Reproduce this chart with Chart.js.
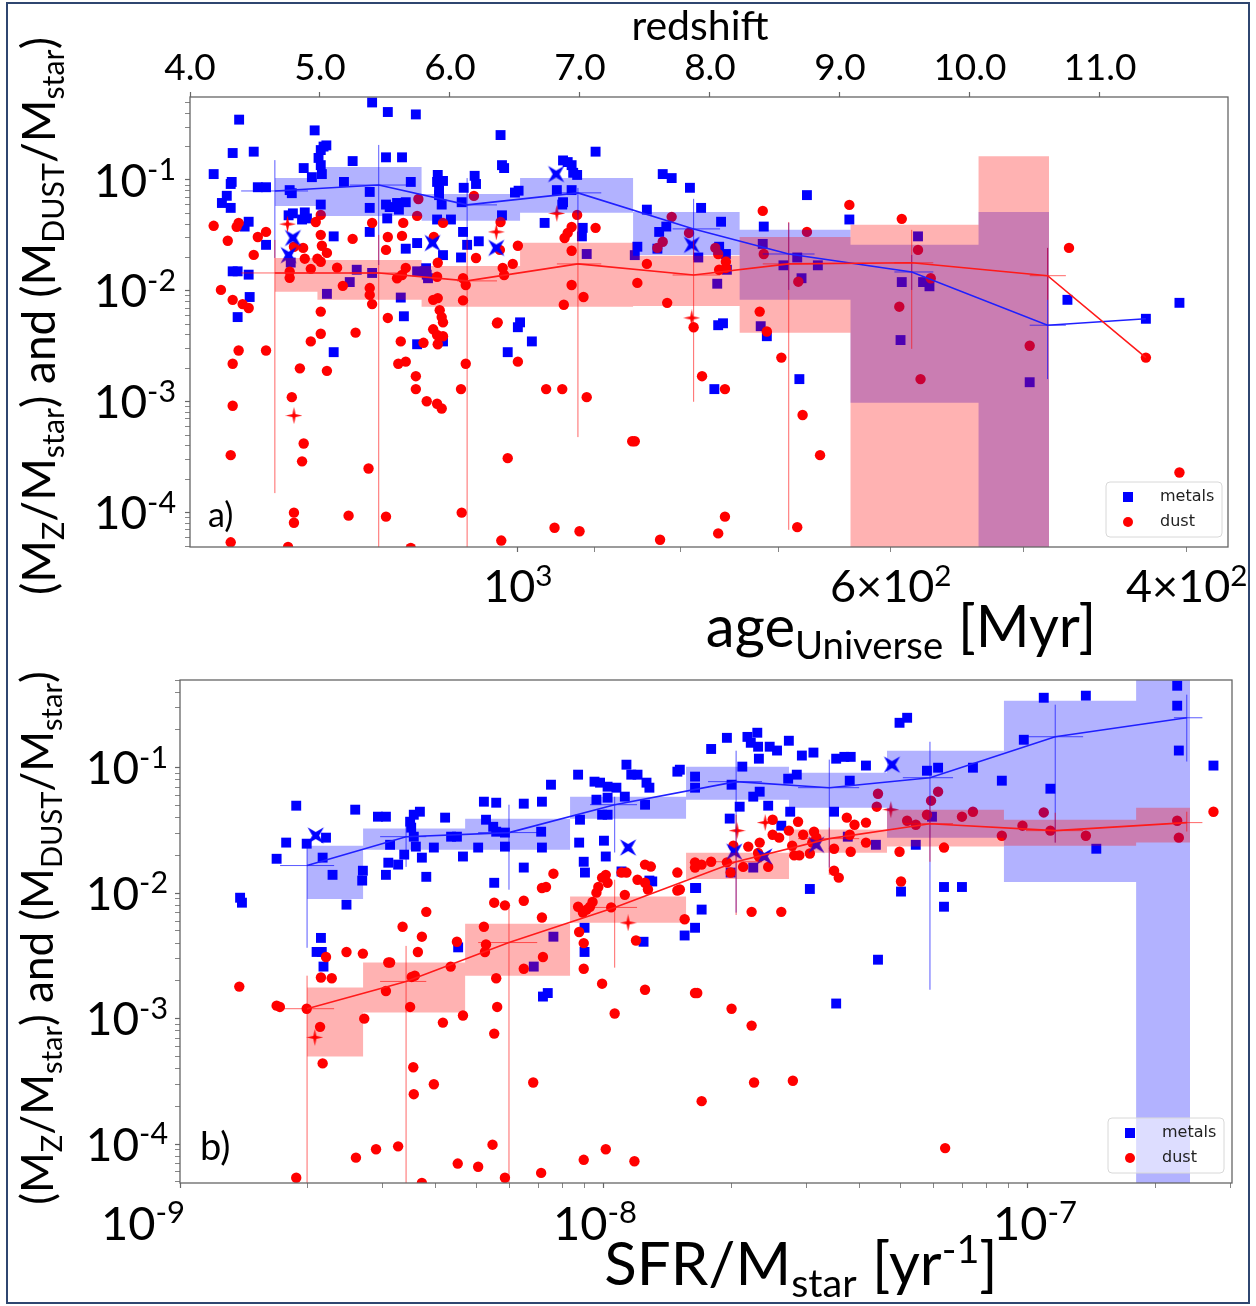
<!DOCTYPE html>
<html>
<head>
<meta charset="utf-8">
<script src="https://cdn.jsdelivr.net/npm/chart.js@4.4.0/dist/chart.umd.min.js"></script>
<style>
body { margin: 0; background: #fff; }
#fig { position: relative; width: 1256px; height: 1306px; }
#fig canvas { position: absolute; left: 0; }
#marco { position: absolute; left: 6px; top: 2px; width: 1240px; height: 1298px; border: 2px solid #2f4670; pointer-events: none; }
</style>
</head>
<body>
<div id="fig">
  <canvas id="grafica-a" width="1256" height="665" style="top:0"></canvas>
  <canvas id="grafica-b" width="1256" height="641" style="top:665px"></canvas>
  <div id="marco"></div>
</div>
<script>
// ---------- panel a : age of the Universe [Myr] ----------
const metalsA = [[1465,0.35],[1221,0.50],[1195,0.41],[1150,0.39],[1321,0.28],[1478,0.175],[1436,0.18],[1305,0.20],[1300,0.205],[1310,0.186],[1314,0.158],[1310,0.136],[1308,0.113],[1341,0.128],[1254,0.148],[1198,0.16],[1172,0.16],[1024,0.254],[1022,0.136],[1019,0.128],[1517,0.113],[1480,0.096],[1482,0.092],[1428,0.086],[1412,0.086],[1367,0.081],[1363,0.076],[1326,0.106],[1269,0.096],[1225,0.078],[1225,0.056],[1158,0.096],[1116,0.111],[1117,0.096],[1108,0.098],[1114,0.081],[1114,0.073],[1110,0.060],[1077,0.085],[1080,0.063],[1061,0.109],[1059,0.092],[1004,0.077],[999,0.080],[1490,0.072],[1500,0.062],[1482,0.056],[1446,0.042],[1454,0.038],[1412,0.026],[1310,0.060],[1369,0.048],[1361,0.050],[1339,0.051],[1335,0.045],[1344,0.044],[1198,0.060],[1192,0.057],[1180,0.062],[1177,0.054],[1166,0.063],[1196,0.045],[1225,0.034],[1287,0.031],[1166,0.024],[1148,0.027],[1117,0.044],[1096,0.044],[1078,0.034],[1072,0.026],[1055,0.028],[1022,0.048],[1108,0.021],[1081,0.020],[1134,0.016],[1133,0.014],[1478,0.015],[1468,0.015],[1446,0.014],[1444,0.0088],[1468,0.0058],[1169,0.0059],[1299,0.0094],[1247,0.0155],[1259,0.012],[1221,0.0145],[1174,0.0087],[1148,0.015],[1136,0.015],[1131,0.013],[1365,0.018],[997,0.0052],[899,0.18],[940,0.15],[934,0.145],[929,0.136],[927,0.116],[922,0.111],[948,0.081],[929,0.081],[940,0.063],[941,0.060],[964,0.041],[915,0.037],[916,0.031],[910,0.0215],[820,0.113],[810,0.104],[790,0.085],[778,0.056],[838,0.054],[757,0.042],[824,0.034],[816,0.038],[849,0.025],[852,0.021],[826,0.024],[781,0.020],[759,0.025],[752,0.0215],[751,0.0155],[761,0.0116],[673,0.073],[714,0.038],[715,0.0265],[695,0.017],[682,0.020],[663,0.017],[678,0.013],[635,0.044],[1000,0.0047],[981,0.0035],[760,0.0049],[755,0.0051],[717,0.0048],[711,0.0039],[764,0.0013],[680,0.0016],[578,0.031],[591,0.012],[574,0.012],[569,0.011],[592,0.0036],[496,0.0015],[471,0.0083],[423,0.0056],[404,0.0078],[1287,0.0028],[1148,0.0033],[1108,0.0035],[1014,0.0028]];
const dustA = [[1517,0.0386],[1488,0.0283],[1470,0.0378],[1466,0.041],[1428,0.0306],[1412,0.034],[1436,0.0211],[1359,0.025],[1342,0.0244],[1339,0.0195],[1328,0.0158],[1367,0.0149],[1367,0.0131],[1319,0.0418],[1310,0.0484],[1310,0.032],[1308,0.0255],[1299,0.022],[1316,0.0195],[1310,0.0183],[1281,0.0162],[1271,0.0111],[1254,0.0294],[1221,0.041],[1225,0.0106],[1225,0.0092],[1221,0.0076],[1195,0.0306],[1198,0.0234],[1170,0.041],[1172,0.0313],[1180,0.013],[1172,0.0139],[1166,0.0161],[1146,0.0674],[1148,0.0474],[1122,0.0306],[1108,0.041],[1116,0.0179],[1117,0.0134],[1123,0.0083],[1116,0.0086],[1113,0.0067],[1110,0.0058],[1108,0.0052],[1078,0.013],[1074,0.0113],[1078,0.0082],[1062,0.0718],[1059,0.0198],[1024,0.0418],[1025,0.0234],[1021,0.0161],[1019,0.0139],[1007,0.0175],[1000,0.0255],[1502,0.0102],[1478,0.0083],[1458,0.0076],[1446,0.0070],[1310,0.0065],[1195,0.0057],[1028,0.0052],[922,0.0484],[929,0.0377],[934,0.0333],[938,0.030],[899,0.037],[929,0.023],[929,0.0113],[939,0.0075],[914,0.0088],[838,0.0175],[849,0.0118],[815,0.0078],[810,0.0465],[820,0.0277],[826,0.0244],[791,0.0333],[763,0.0244],[760,0.0215],[752,0.0183],[759,0.0155],[752,0.0161],[786,0.0047],[715,0.0526],[714,0.0215],[673,0.034],[681,0.0121],[718,0.0065],[711,0.0043],[635,0.0596],[591,0.0446],[578,0.0234],[568,0.013],[593,0.0072],[470,0.0244],[697,0.0025],[777,0.0017],[753,0.0013],[852,0.00044],[677,0.00076],[661,0.00033],[753,0.000092],[760,0.000065],[823,0.000057],[682,0.000074],[576,0.0016],[496,0.0032],[423,0.0025],[404,0.00023],[1466,0.0029],[1478,0.0022],[1412,0.0029],[1328,0.0035],[1310,0.0041],[1348,0.002],[1299,0.0019],[1249,0.0042],[1123,0.0045],[1117,0.004],[1108,0.0039],[1116,0.0033],[1138,0.0034],[1174,0.0035],[1178,0.0022],[1166,0.0023],[1150,0.0017],[1150,0.0013],[1133,0.00101],[1117,0.00096],[1110,0.00087],[1074,0.0022],[1081,0.0013],[1029,0.0051],[1000,0.0023],[962,0.0013],[941,0.0013],[910,0.0011],[855,0.00044],[1363,0.0011],[1478,0.00092],[1341,0.00042],[1344,0.00029],[1482,0.00033],[1227,0.00025],[1014,0.00031],[1359,0.0001],[1359,0.000081],[1261,0.000094],[1198,0.000092],[1080,0.0001],[1482,0.000054],[1370,0.000049],[951,0.000073],[919,0.000068],[1023,0.000056],[1158,0.000048]];
const starsMetalsA = [[1361,0.030],[1369,0.021],[1124,0.027],[1030,0.0244],[949,0.113],[788,0.026]];
const starsDustA = [[1371,0.040],[1030,0.034],[948,0.050],[788,0.0057],[1359,0.00075]];

// bins (16-84 percentile boxes), edges in Myr
const binEdgesA = [1395,1316,1141,997,854,738,634,532,483];
const metalsHiA = [0.104,0.131,0.0748,0.104,0.0515,0.0355,0.026,0.0515];
const metalsLoA = [0.0583,0.0474,0.0428,0.0505,0.0211,0.0083,0.00098,1e-6];
const dustHiA = [0.0198,0.019,0.0168,0.0271,0.0207,0.0306,0.0394,0.164];
const dustLoA = [0.0098,0.0083,0.0072,0.0072,0.0073,0.0042,1e-6,1e-6];

// medians with error bars
const medAgeA = [1395,1210,1072,921,786,690,583,484,423];
const medMetalsA = [0.0796,0.090,0.0596,0.0765,0.0362,0.0215,0.0148,0.0049,0.0056];
const medDustA = [0.0145,0.0145,0.0123,0.0175,0.0139,0.0175,0.0179,0.0137,0.0025];
const ageLoA = [1461,1259,1087,948,809,715,597,496];
const ageHiA = [1333,1164,1029,892,758,666,566,472];
const metalsErrHiA = [0.151,0.207,0.104,0.0847,0.0676,0.041,0.0211,0.0244];
const metalsErrLoA = [0.0198,0.0171,0.0234,0.0288,0.019,0.0102,0.0102,0.0016];
const dustErrHiA = [0.0288,0.032,0.0288,0.0484,0.0288,0.0418,0.0355,0.0244];
const dustErrLoA = [0.00015,1e-6,1e-6,0.00048,0.001,0.00007,0.003,0.0083];

// ---------- panel b : SFR/Mstar [1/yr] ----------
const metalsB = [[1.386e-9,0.0092],[1.40e-9,0.0084],[1.69e-9,0.0188],[1.88e-9,0.0498],[1.78e-9,0.0253],[1.99e-9,0.0248],[2.21e-9,0.0277],[2.17e-9,0.0192],[2.29e-9,0.014],[2.47e-9,0.0081],[2.59e-9,0.0463],[2.70e-9,0.0151],[2.69e-9,0.0126],[2.93e-9,0.0407],[3.06e-9,0.0407],[3.13e-9,0.0243],[3.10e-9,0.0175],[3.27e-9,0.0169],[3.06e-9,0.0140],[3.38e-9,0.0203],[3.49e-9,0.0371],[3.56e-9,0.0422],[3.68e-9,0.0446],[3.51e-9,0.0333],[3.56e-9,0.0282],[3.60e-9,0.0235],[3.72e-9,0.0192],[3.81e-9,0.0135],[3.97e-9,0.0231],[4.22e-9,0.0400],[4.36e-9,0.0282],[4.50e-9,0.0282],[4.65e-9,0.0196],[5.05e-9,0.0231],[5.21e-9,0.0536],[5.57e-9,0.0526],[5.27e-9,0.0385],[5.48e-9,0.0338],[5.57e-9,0.0309],[5.84e-9,0.0304],[5.84e-9,0.0235],[6.47e-9,0.0517],[6.47e-9,0.016],[5.51e-9,0.0121],[7.14e-9,0.0536],[7.11e-9,0.0309],[7.14e-9,0.0231],[7.50e-9,0.0732],[8.69e-9,0.088],[8.78e-9,0.0385],[8.74e-9,0.0253],[8.96e-9,0.0178],[9.02e-9,0.0146],[9.5e-9,0.0774],[9.79e-9,0.0760],[1.02e-8,0.0706],[1.07e-8,0.0693],[1.13e-8,0.1057],[1.16e-8,0.088],[1.20e-8,0.088],[1.26e-8,0.076],[1.28e-8,0.0693],[9.6e-9,0.0556],[1.02e-8,0.0577],[1.12e-8,0.0588],[1.25e-8,0.0507],[9.9e-9,0.0422],[1.02e-8,0.0422],[1.00e-8,0.0262],[1.01e-8,0.0196],[1.49e-8,0.093],[1.64e-8,0.0849],[1.64e-8,0.0693],[1.10e-8,0.0149],[1.28e-8,0.0126],[1.30e-8,0.0124],[1.55e-8,0.0046],[1.64e-8,0.011],[1.64e-8,0.0053],[2.15e-9,0.0044],[2.10e-9,0.0034],[2.16e-9,0.0034],[2.18e-9,0.0026],[9.0e-9,0.0053],[9.0e-9,0.0034],[1.24e-8,0.0041],[4.53e-9,0.0037],[7.18e-9,0.0015],[7.37e-9,0.0016],[7.6e-9,0.0045],[6.83e-9,0.0026],[1.51e-8,0.0964],[1.79e-8,0.141],[1.95e-8,0.173],[2.18e-8,0.176],[2.30e-8,0.190],[2.22e-8,0.158],[2.31e-8,0.147],[2.32e-8,0.118],[2.46e-8,0.147],[2.56e-8,0.137],[2.73e-8,0.164],[2.93e-8,0.125],[3.12e-8,0.132],[3.53e-8,0.118],[3.69e-8,0.122],[3.82e-8,0.122],[4.15e-8,0.104],[4.98e-8,0.228],[5.19e-8,0.250],[2.12e-8,0.102],[2.00e-8,0.0732],[2.33e-8,0.0644],[2.25e-8,0.0588],[2.72e-8,0.0817],[2.85e-8,0.088],[3.80e-8,0.0788],[2.09e-8,0.0489],[2.44e-8,0.0498],[1.98e-8,0.0393],[2.75e-8,0.0446],[2.62e-8,0.0345],[3.49e-8,0.0446],[4.38e-8,0.0243],[5.44e-8,0.0243],[5.78e-8,0.0946],[6.14e-8,0.100],[7.42e-8,0.100],[8.68e-8,0.0788],[9.78e-8,0.167],[1.09e-7,0.361],[1.37e-7,0.375],[1.13e-7,0.068],[2.25e-7,0.45],[2.25e-7,0.312],[2.27e-7,0.137],[2.74e-7,0.104],[1.45e-7,0.0226],[1.65e-8,0.011],[1.70e-8,0.0074],[3.06e-8,0.0108],[5.02e-8,0.0103],[6.34e-8,0.0112],[6.99e-8,0.0112],[6.34e-8,0.0078],[5.94e-8,0.0407],[3.76e-8,0.0282],[2.25e-8,0.016],[1.99e-8,0.0146],[3.53e-8,0.00132],[4.43e-8,0.00295]];
const dustB = [[1.99e-9,0.0012],[2.14e-9,0.00086],[2.17e-9,0.00044],[1.72e-9,0.00124],[2.21e-9,0.0031],[2.28e-9,0.0021],[2.15e-9,0.00213],[2.47e-9,0.0034],[2.70e-9,0.0033],[2.72e-9,0.001],[3.06e-9,0.00166],[3.10e-9,0.0028],[3.13e-9,0.0028],[3.35e-9,0.0054],[3.52e-9,0.00215],[3.58e-9,0.0022],[3.49e-9,0.00124],[3.64e-9,0.0034],[3.72e-9,0.0045],[3.81e-9,0.0071],[3.55e-9,0.00041],[4.17e-9,0.00093],[4.65e-9,0.00106],[4.35e-9,0.0026],[4.50e-9,0.0041],[5.21e-9,0.0054],[5.27e-9,0.0039],[5.24e-9,0.0034],[5.57e-9,0.0021],[5.60e-9,0.00124],[5.51e-9,0.00076],[5.51e-9,0.0084],[5.84e-9,0.0080],[6.47e-9,0.0087],[7.14e-9,0.011],[7.30e-9,0.0112],[7.6e-9,0.0143],[7.14e-9,0.0064],[7.18e-9,0.0031],[6.47e-9,0.0025],[8.69e-9,0.0078],[8.92e-9,0.0070],[9.1e-9,0.0074],[9.27e-9,0.0078],[9.4e-9,0.0085],[9.6e-9,0.0101],[9.7e-9,0.0112],[9.9e-9,0.0133],[1.01e-8,0.014],[1.02e-8,0.0121],[8.74e-9,0.0049],[8.96e-9,0.0040],[8.96e-9,0.0025],[9.9e-9,0.0019],[1.04e-8,0.0077],[1.06e-8,0.0011],[1.12e-8,0.0097],[1.19e-8,0.0042],[1.10e-8,0.0146],[1.13e-8,0.0146],[1.20e-8,0.0128],[1.25e-8,0.0121],[1.27e-8,0.0107],[1.25e-8,0.0169],[1.29e-8,0.0163],[1.25e-8,0.0017],[1.49e-8,0.0146],[1.49e-8,0.0105],[1.55e-8,0.0062],[1.64e-8,0.0016],[1.64e-8,0.0176],[1.64e-8,0.016],[1.51e-8,0.0107],[1.70e-8,0.0169],[1.79e-8,0.0178],[1.95e-8,0.0176],[1.99e-8,0.0146],[2.02e-8,0.0239],[2.19e-8,0.0235],[2.31e-8,0.0209],[2.33e-8,0.0253],[2.32e-8,0.0196],[2.13e-8,0.0162],[2.44e-8,0.0162],[2.50e-8,0.0385],[2.50e-8,0.0292],[2.59e-8,0.0277],[2.73e-8,0.0315],[2.87e-8,0.0371],[2.95e-8,0.0292],[3.13e-8,0.0309],[3.17e-8,0.0277],[3.10e-8,0.0253],[2.78e-8,0.0239],[2.81e-8,0.02],[2.89e-8,0.02],[3.06e-8,0.0207],[3.49e-8,0.0226],[3.49e-8,0.0151],[3.58e-8,0.0133],[3.74e-8,0.0400],[3.90e-8,0.0351],[3.80e-8,0.0292],[3.82e-8,0.0214],[4.15e-8,0.0365],[4.15e-8,0.0253],[4.98e-8,0.0214],[4.43e-8,0.062],[4.40e-8,0.0489],[5.19e-8,0.0378],[5.44e-8,0.0351],[5.91e-8,0.0546],[6.14e-8,0.0644],[5.78e-8,0.0422],[6.34e-8,0.0231],[5.02e-8,0.0124],[2.23e-8,0.0071],[2.62e-8,0.0071],[6.99e-8,0.0407],[7.42e-8,0.0446],[8.68e-8,0.0287],[9.71e-8,0.0345],[1.09e-7,0.044],[1.13e-7,0.0315],[1.37e-7,0.0287],[2.25e-7,0.0378],[2.27e-7,0.0277],[2.74e-7,0.0446],[1.66e-8,0.0016],[2.00e-8,0.0012],[2.23e-8,0.00088],[2.26e-8,0.00031],[2.79e-8,0.00032],[1.70e-8,0.00022],[1.18e-8,0.000073],[6.38e-8,0.000093],[1.38e-9,0.0018],[1.69e-9,0.00127],[1.88e-9,0.000054],[2.60e-9,0.000078],[2.90e-9,0.000091],[3.27e-9,0.000096],[3.97e-9,0.0003],[3.56e-9,0.00025],[4.52e-9,0.000070],[5.05e-9,0.000066],[5.46e-9,0.000099],[5.84e-9,0.000054],[6.81e-9,0.00031],[7.11e-9,0.000059],[8.96e-9,0.000075],[1.01e-8,0.000091],[3.72e-9,0.000049]];
const starsMetalsB = [[2.09e-9,0.0288],[1.14e-8,0.0231],[4.78e-8,0.1057],[3.17e-8,0.0243],[2.39e-8,0.0196],[2.03e-8,0.0214]];
const starsDustB = [[2.08e-9,0.00071],[1.14e-8,0.0058],[2.06e-8,0.0315],[2.40e-8,0.0365],[4.75e-8,0.0463]];

const binEdgesB = [1.994e-9,2.703e-9,4.705e-9,8.319e-9,1.562e-8,2.732e-8,4.652e-8,8.78e-8,1.80e-7,2.412e-7];
const metalsHiB = [0.0239,0.0327,0.0392,0.0587,0.1018,0.0912,0.1366,0.342,1.0];
const metalsLoB = [0.0090,0.0222,0.0222,0.0392,0.0556,0.0480,0.0277,0.0123,1e-6];
const dustHiB = [0.00177,0.0028,0.0057,0.0094,0.021,0.0321,0.0463,0.0385,0.048];
const dustLoB = [0.00050,0.00112,0.0022,0.0058,0.013,0.021,0.0235,0.0239,0.0253];

const medSsfrB = [1.994e-9,3.414e-9,5.97e-9,1.06e-8,2.05e-8,3.40e-8,5.875e-8,1.16e-7,2.37e-7];
const medMetalsB = [0.0166,0.0282,0.0304,0.0507,0.0774,0.0693,0.0832,0.1765,0.25];
const medDustB = [0.0012,0.00198,0.00404,0.0077,0.0178,0.0272,0.0358,0.0315,0.0365];
const ssfrLoB = [1.722e-9,2.965e-9,5.05e-9,9.27e-9,1.76e-8,2.87e-8,5.07e-8,9.9e-8,2.21e-7];
const ssfrHiB = [2.31e-9,3.81e-9,6.96e-9,1.197e-8,2.36e-8,4.00e-8,6.66e-8,1.35e-7,2.58e-7];
const metalsErrHiB = [0.0239,0.0339,0.0507,0.0587,0.1366,0.116,0.161,0.318,0.382];
const metalsErrLoB = [0.00367,0.0162,0.01066,0.0211,0.0070,0.016,0.0017,0.0253,0.112];
const dustErrHiB = [0.0022,0.0038,0.0078,0.0128,0.0422,0.0333,0.0507,0.0438,0.0446];
const dustErrLoB = [1e-6,1e-6,1e-6,0.00255,0.0067,0.014,0.0178,0.0253,0.031];

// ---------- ticks ----------
const ratioTicks = [1e-1,1e-2,1e-3,1e-4];
const ratioTickText = [['10','-1'],['10','-2'],['10','-3'],['10','-4']];
const ageTicks = [1000,600,400];
const ageTickText = [['10','3'],['6×10','2'],['4×10','2']];
const redshiftTicks = [4,5,6,7,8,9,10,11];
const ssfrTicks = [1e-9,1e-8,1e-7];
const ssfrTickText = [['10','-9'],['10','-8'],['10','-7']];
const ssfrTickShift = [-37,-9,7];

const FONT = 'Lato, "Liberation Sans", sans-serif';
const AZUL = '#0000ff';
const ROJO = '#ff0000';

function pts(list) {
    return list.map(p => ({x: p[0], y: p[1]}));
}

// one point per bin edge, the last edge repeats the last bin value
function escalones(edges, vals) {
    return edges.map((e, i) => ({x: e, y: vals[Math.min(i, vals.length - 1)]}));
}

function barras(xs, ys, yLo, yHi, xLo, xHi) {
    const out = [];
    for (let i = 0; i < yLo.length; i++) {
        out.push({x: xs[i], y: yLo[i]}, {x: xs[i], y: yHi[i]}, {x: xs[i], y: null});
        out.push({x: xLo[i], y: ys[i]}, {x: xHi[i], y: ys[i]}, {x: xHi[i], y: null});
    }
    return out;
}

function estrella(color, size, rot, inner) {
    const c = document.createElement('canvas');
    c.width = size; c.height = size;
    const g = c.getContext('2d');
    g.translate(size / 2, size / 2);
    g.rotate(rot);
    const R = size / 2, r = R * inner;
    g.beginPath();
    for (let i = 0; i < 8; i++) {
        const a = i * Math.PI / 4, rr = (i % 2) ? r : R;
        g.lineTo(rr * Math.cos(a), rr * Math.sin(a));
    }
    g.closePath();
    g.fillStyle = color;
    g.fill();
    return c;
}

function logTicks(min, max) {
    const t = [];
    for (let e = -10; e <= 4; e++) {
        for (let k = 1; k < 10; k++) {
            const v = k * Math.pow(10, e);
            if (v >= min * 0.999 && v <= max * 1.001) t.push({value: v, major: k === 1});
        }
    }
    return t;
}

// text with sub (-1) and superscripts (1)
function rich(ctx, runs, x, y, size, align, rot) {
    const fs = k => (k === 0 ? size : size * 0.66);
    const ws = runs.map(r => { ctx.font = fs(r[1]) + 'px ' + FONT; return ctx.measureText(r[0]).width; });
    const total = ws.reduce((a, b) => a + b, 0);
    ctx.save();
    ctx.translate(x, y);
    if (rot) ctx.rotate(rot);
    ctx.fillStyle = '#000';
    ctx.textAlign = 'left';
    ctx.textBaseline = 'alphabetic';
    let cx = align === 'center' ? -total / 2 : (align === 'right' ? -total : 0);
    runs.forEach((r, i) => {
        ctx.font = fs(r[1]) + 'px ' + FONT;
        const dy = r[1] < 0 ? size * 0.2 : (r[1] > 0 ? -size * 0.36 : 0);
        ctx.fillText(r[0], cx, dy);
        cx += ws[i];
    });
    ctx.restore();
}

function decor(d) {
    return {
        id: 'decor',
        afterDatasetsDraw(chart) {
            const ctx = chart.ctx, a = chart.chartArea;
            // legend
            const w = 116, h = 55, lx = a.right - d.legRight - w, ly = a.bottom - 10 - h;
            ctx.save();
            ctx.fillStyle = 'rgba(255,255,255,0.55)';
            ctx.strokeStyle = '#d8d8d8';
            ctx.lineWidth = 1;
            ctx.beginPath();
            ctx.roundRect(lx, ly, w, h, 4);
            ctx.fill();
            ctx.stroke();
            ctx.fillStyle = AZUL;
            ctx.fillRect(lx + 17, ly + 10, 10, 10);
            ctx.fillStyle = ROJO;
            ctx.beginPath();
            ctx.arc(lx + 22, ly + 40, 5, 0, Math.PI * 2);
            ctx.fill();
            ctx.fillStyle = '#222';
            ctx.font = '16px "DejaVu Sans"';
            ctx.textBaseline = 'middle';
            ctx.fillText('metals', lx + 54, ly + 15);
            ctx.fillText('dust', lx + 54, ly + 40);
            // axes frame
            ctx.strokeStyle = '#666';
            ctx.lineWidth = 1.3;
            ctx.strokeRect(a.left, a.top, a.right - a.left, a.bottom - a.top);
            ctx.restore();
        },
        afterDraw(chart) {
            const ctx = chart.ctx, sx = chart.scales.x, sy = chart.scales.y;
            ratioTicks.forEach((v, i) => {
                rich(ctx, [[ratioTickText[i][0], 0], [ratioTickText[i][1], 1]],
                    d.yRight, sy.getPixelForValue(v) + 0.36 * d.ySize, d.ySize, 'right');
            });
            d.xTicks.forEach((v, i) => {
                rich(ctx, [[d.xText[i][0], 0], [d.xText[i][1], 1]],
                    sx.getPixelForValue(v) + (d.xShift ? d.xShift[i] : 0), d.xBase, d.xSize, 'center');
            });
            if (chart.scales.x2) {
                const s2 = chart.scales.x2;
                redshiftTicks.forEach(v => {
                    rich(ctx, [[v.toFixed(1), 0]], s2.getPixelForValue(v), 80, 37, 'center');
                });
                rich(ctx, [['redshift', 0]], 700, 40, 41, 'center');
            }
            rich(ctx, d.xTitle, d.xTitleX, d.xTitleBase, d.xTitleSize, 'center');
            rich(ctx, [['(M', 0], ['Z', -1], ['/M', 0], ['star', -1], [') and (M', 0], ['DUST', -1], ['/M', 0], ['star', -1], [')', 0]],
                d.yTitleX, d.yTitleY, d.yTitleSize, 'center', -Math.PI / 2);
            rich(ctx, [[d.panel, 0]], d.panelX, d.panelBase, d.panelSize, 'left');
        }
    };
}

function graficar(canvasId, p) {
    const bx = estrella(AZUL, 23, Math.PI / 4, 0.3);
    const rx = estrella(ROJO, 17, 0, 0.25);
    const scatter = (data, style, color, radius, order) => ({
        type: 'scatter', data: pts(data), pointStyle: style, pointRadius: radius,
        backgroundColor: color, borderWidth: 0, pointBorderWidth: 0, clip: 0, order: order
    });
    // Chart.js 'before' keeps each value until the next edge
    const step = (edges, vals, fill, color, order) => ({
        type: 'line', data: escalones(edges, vals), stepped: 'before', borderWidth: 0,
        pointRadius: 0, fill: fill, backgroundColor: color, order: order, clip: 0
    });
    const linea = (data, color, width, order) => ({
        type: 'line', data: data, borderColor: color, borderWidth: width, pointRadius: 0,
        fill: false, spanGaps: false, tension: 0, order: order, clip: 0
    });
    const datasets = [
        scatter(p.metals, 'rect', AZUL, 7, 12),
        scatter(p.dust, 'circle', ROJO, 5.2, 11),
        scatter(p.starsMetals, bx, AZUL, 8, 10),
        scatter(p.starsDust, rx, ROJO, 8, 9),
        step(p.edges, p.metalsHi, {target: 5}, 'rgba(0,0,255,0.3)', 8),
        step(p.edges, p.metalsLo, false, 'rgba(0,0,0,0)', 8),
        step(p.edges, p.dustHi, {target: 7}, 'rgba(255,0,0,0.3)', 7),
        step(p.edges, p.dustLo, false, 'rgba(0,0,0,0)', 7),
        linea(barras(p.medX, p.medMetals, p.metalsErrLo, p.metalsErrHi, p.xLo, p.xHi), 'rgba(0,0,255,0.65)', 1, 4),
        linea(barras(p.medX, p.medDust, p.dustErrLo, p.dustErrHi, p.xLo, p.xHi), 'rgba(255,0,0,0.6)', 1, 3),
        linea(p.medX.map((x, i) => ({x: x, y: p.medMetals[i]})), '#1f1fff', 1.6, 2),
        linea(p.medX.map((x, i) => ({x: x, y: p.medDust[i]})), '#ff1a1a', 1.6, 1)
    ];
    const axisGrid = {drawOnChartArea: false, drawTicks: true, tickLength: 5, color: '#666',
        tickWidth: c => (c.tick && c.tick.major ? 1.2 : 0.8)};
    const scales = {
        x: {
            type: 'logarithmic', position: 'bottom', min: p.xMin, max: p.xMax, reverse: p.reverse,
            afterBuildTicks: s => { s.ticks = logTicks(p.xMin, p.xMax); },
            afterFit: s => { s.height = p.xAxisH; },
            ticks: {display: false}, grid: axisGrid, border: {display: false}
        },
        y: {
            type: 'logarithmic', position: 'left', min: p.yMin, max: p.yMax,
            afterBuildTicks: s => { s.ticks = logTicks(p.yMin, p.yMax); },
            afterFit: s => { s.width = p.yAxisW; },
            ticks: {display: false}, grid: axisGrid, border: {display: false}
        }
    };
    if (p.top) {
        scales.x2 = {
            type: 'linear', position: 'top', min: 4, max: 11.985,
            afterBuildTicks: s => { s.ticks = redshiftTicks.map(v => ({value: v, major: true})); },
            afterFit: s => { s.height = p.top; },
            ticks: {display: false}, grid: axisGrid, border: {display: false}
        };
    }
    return new Chart(document.getElementById(canvasId), {
        type: 'scatter',
        data: {datasets: datasets},
        options: {
            responsive: false,
            animation: false,
            events: [],
            layout: {padding: {left: 0, right: p.padRight, top: p.padTop, bottom: 0}},
            plugins: {legend: {display: false}, tooltip: {enabled: false}},
            scales: scales
        },
        plugins: [decor(p.deco)]
    });
}

graficar('grafica-a', {
    metals: metalsA, dust: dustA, starsMetals: starsMetalsA, starsDust: starsDustA,
    edges: binEdgesA, metalsHi: metalsHiA, metalsLo: metalsLoA, dustHi: dustHiA, dustLo: dustLoA,
    medX: medAgeA, medMetals: medMetalsA, medDust: medDustA, xLo: ageLoA, xHi: ageHiA,
    metalsErrLo: metalsErrLoA, metalsErrHi: metalsErrHiA, dustErrLo: dustErrLoA, dustErrHi: dustErrHiA,
    xMin: 378, xMax: 1567, reverse: true, yMin: 4.9e-5, yMax: 0.56,
    xAxisH: 118, yAxisW: 190, top: 97, padRight: 28, padTop: 0,
    deco: {
        legRight: 6, yRight: 176, ySize: 46,
        xTicks: ageTicks, xText: ageTickText, xBase: 602, xSize: 45,
        xTitle: [['age', 0], ['Universe', -1], [' [Myr]', 0]], xTitleX: 901, xTitleBase: 647, xTitleSize: 58,
        yTitleX: 55, yTitleY: 316, yTitleSize: 46,
        panel: 'a)', panelX: 208, panelBase: 527, panelSize: 34
    }
});

graficar('grafica-b', {
    metals: metalsB, dust: dustB, starsMetals: starsMetalsB, starsDust: starsDustB,
    edges: binEdgesB, metalsHi: metalsHiB, metalsLo: metalsLoB, dustHi: dustHiB, dustLo: dustLoB,
    medX: medSsfrB, medMetals: medMetalsB, medDust: medDustB, xLo: ssfrLoB, xHi: ssfrHiB,
    metalsErrLo: metalsErrLoB, metalsErrHi: metalsErrHiB, dustErrLo: dustErrLoB, dustErrHi: dustErrHiB,
    xMin: 1e-9, xMax: 3.03e-7, reverse: false, yMin: 4.9e-5, yMax: 0.50,
    xAxisH: 123, yAxisW: 180, top: 0, padRight: 24, padTop: 15,
    deco: {
        legRight: 8, yRight: 168, ySize: 46,
        xTicks: ssfrTicks, xText: ssfrTickText, xShift: ssfrTickShift, xBase: 575, xSize: 47,
        xTitle: [['SFR/M', 0], ['star', -1], [' [yr', 0], ['-1', 1], [']', 0]], xTitleX: 801, xTitleBase: 620, xTitleSize: 60,
        yTitleX: 53, yTitleY: 273, yTitleSize: 44,
        panel: 'b)', panelX: 200, panelBase: 495, panelSize: 38
    }
});
</script>
</body>
</html>
